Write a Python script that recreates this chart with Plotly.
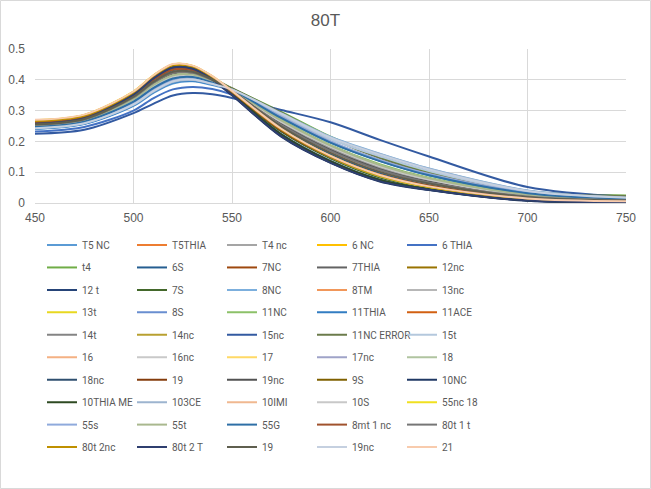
import plotly.graph_objects as go

wavelength = [450, 475, 500, 510, 520, 530, 540, 550, 575, 600, 625, 650, 700, 750]

series_names = [
    "T5 NC", "T5THIA", "T4 nc", "6 NC", "6 THIA",
    "t4", "6S", "7NC", "7THIA", "12nc",
    "12 t", "7S", "8NC", "8TM", "13nc",
    "13t", "8S", "11NC", "11THIA", "11ACE",
    "14t", "14nc", "15nc", "11NC ERROR", "15t",
    "16", "16nc", "17", "17nc", "18",
    "18nc", "19", "19nc", "9S", "10NC",
    "10THIA ME", "103CE", "10IMI", "10S", "55nc 18",
    "55s", "55t", "55G", "8mt 1 nc", "80t 1 t",
    "80t 2nc", "80t 2 T", "19", "19nc", "21",
]

absorbance = [
    [.240, .256, .315, .357, .388, .395, .383, .366, .288, .210, .155, .106, .038, .016],
    [.256, .273, .346, .394, .428, .427, .401, .363, .247, .162, .100, .062, .019, .008],
    [.251, .269, .338, .384, .416, .418, .396, .365, .260, .178, .115, .073, .024, .010],
    [.266, .283, .358, .410, .447, .443, .409, .361, .236, .148, .086, .050, .013, .005],
    [.232, .247, .300, .340, .369, .377, .370, .352, .276, .196, .137, .090, .030, .012],
    [.254, .271, .340, .386, .418, .420, .402, .372, .296, .215, .150, .100, .038, .024],
    [.257, .274, .347, .395, .429, .428, .402, .362, .244, .158, .097, .059, .018, .007],
    [.261, .278, .351, .401, .435, .432, .402, .359, .234, .148, .088, .053, .015, .006],
    [.249, .267, .334, .380, .412, .414, .394, .364, .264, .183, .120, .077, .026, .011],
    [.263, .280, .354, .404, .438, .435, .404, .360, .235, .149, .089, .054, .015, .006],
    [.258, .276, .352, .405, .441, .437, .402, .352, .218, .132, .072, .043, .008, .003],
    [.262, .280, .356, .408, .445, .442, .408, .360, .232, .145, .083, .049, .012, .005],
    [.243, .259, .320, .362, .394, .400, .387, .369, .292, .215, .160, .112, .041, .018],
    [.254, .271, .343, .390, .423, .423, .399, .363, .252, .168, .106, .066, .021, .009],
    [.250, .268, .336, .382, .414, .416, .395, .365, .262, .180, .117, .075, .025, .010],
    [.268, .285, .361, .413, .450, .445, .411, .363, .239, .152, .090, .053, .014, .005],
    [.246, .263, .328, .372, .403, .408, .390, .367, .278, .198, .138, .092, .033, .014],
    [.252, .270, .338, .385, .417, .419, .398, .367, .270, .188, .126, .082, .028, .012],
    [.241, .257, .317, .359, .391, .397, .385, .368, .289, .211, .156, .108, .039, .017],
    [.260, .277, .349, .399, .433, .431, .402, .360, .238, .152, .092, .056, .016, .006],
    [.249, .267, .335, .381, .413, .415, .394, .364, .262, .181, .118, .076, .025, .010],
    [.265, .282, .357, .409, .446, .442, .409, .362, .240, .153, .091, .054, .014, .006],
    [.225, .238, .292, .322, .349, .357, .353, .341, .302, .262, .205, .151, .052, .020],
    [.255, .272, .342, .388, .420, .422, .404, .373, .293, .211, .146, .097, .036, .023],
    [.244, .260, .322, .365, .397, .402, .388, .368, .286, .207, .152, .104, .037, .016],
    [.255, .272, .344, .392, .425, .425, .400, .364, .250, .165, .103, .064, .020, .008],
    [.248, .266, .333, .379, .410, .413, .393, .364, .266, .185, .122, .079, .026, .011],
    [.267, .284, .359, .411, .448, .444, .410, .362, .237, .149, .087, .051, .013, .005],
    [.245, .262, .326, .370, .401, .406, .389, .366, .280, .200, .140, .094, .034, .015],
    [.251, .269, .337, .383, .415, .417, .396, .366, .266, .184, .121, .078, .026, .011],
    [.257, .275, .350, .402, .437, .434, .401, .354, .224, .137, .076, .045, .009, .004],
    [.262, .279, .352, .402, .436, .433, .403, .360, .236, .150, .090, .055, .016, .006],
    [.253, .271, .342, .389, .421, .422, .399, .364, .255, .172, .110, .069, .022, .009],
    [.267, .285, .360, .412, .449, .444, .410, .362, .238, .150, .088, .052, .014, .005],
    [.256, .274, .350, .403, .440, .436, .400, .350, .215, .130, .070, .042, .007, .003],
    [.259, .277, .353, .406, .443, .439, .404, .355, .222, .135, .075, .045, .009, .004],
    [.243, .259, .319, .361, .393, .399, .386, .368, .291, .214, .159, .111, .040, .018],
    [.254, .272, .344, .391, .424, .424, .400, .364, .251, .166, .104, .065, .020, .008],
    [.250, .268, .335, .381, .413, .415, .395, .365, .263, .182, .119, .076, .025, .010],
    [.269, .286, .362, .414, .450, .445, .411, .363, .240, .151, .089, .052, .014, .005],
    [.245, .262, .327, .371, .402, .407, .390, .367, .279, .199, .139, .093, .034, .015],
    [.251, .269, .337, .383, .415, .417, .396, .366, .268, .186, .123, .080, .027, .012],
    [.247, .264, .329, .373, .404, .409, .391, .367, .276, .196, .136, .090, .032, .013],
    [.261, .278, .350, .400, .434, .432, .402, .360, .237, .151, .091, .055, .016, .006],
    [.254, .271, .343, .390, .423, .423, .399, .363, .253, .169, .107, .067, .021, .009],
    [.266, .283, .358, .410, .446, .442, .409, .362, .239, .152, .090, .053, .014, .005],
    [.257, .275, .351, .404, .440, .436, .401, .351, .217, .131, .071, .043, .008, .003],
    [.256, .273, .345, .393, .426, .426, .401, .364, .248, .163, .101, .063, .019, .008],
    [.243, .259, .320, .363, .395, .401, .387, .368, .290, .212, .157, .109, .039, .017],
    [.270, .287, .362, .414, .451, .446, .412, .364, .241, .153, .091, .054, .015, .006],
]

line_colors = [
    "#5B9BD5", "#ED7D31", "#A5A5A5", "#FFC000", "#4472C4",
    "#70AD47", "#255E91", "#9E480E", "#636363", "#997300",
    "#264478", "#43682B", "#7CAFDD", "#F1975A", "#B7B7B7",
    "#E8D820", "#698ED0", "#8CC168", "#327DC2", "#D26012",
    "#848484", "#B8A030", "#335AA1", "#6B7B4B", "#B4C8DD",
    "#F4B183", "#C9C9C9", "#FFD966", "#9FA3C8", "#B0C4A0",
    "#2F4F6F", "#843C0C", "#525252", "#7F6000", "#203864",
    "#2E4A22", "#9DB4CF", "#F0B890", "#C8C8C8", "#F0E020",
    "#8FAADC", "#A9B88E", "#2E6FA6", "#A0522D", "#767676",
    "#BF9000", "#2F3F6F", "#5F5F4F", "#C5D0E0", "#F8CBAD",
]

# layout geometry (pixels)
W, H = 651, 489
PL, PR, PT, PB = 35, 626, 49, 203
pw, ph = PR - PL, PB - PT

fig = go.Figure()
for i, (nm, vals, col) in enumerate(zip(series_names, absorbance, line_colors)):
    row = i // 5
    lg = "legend" if row == 0 else f"legend{row + 1}"
    fig.add_trace(go.Scatter(
        x=wavelength, y=vals, name=nm, mode="lines",
        line=dict(color=col, width=2, shape="spline", smoothing=0.9),
        legend=lg,
    ))

legend_font = dict(family="Roboto, Arial", size=10, color="#595959")
layout_legends = {}
for r in range(10):
    key = "legend" if r == 0 else f"legend{r + 1}"
    row_y = 245 + 22.45 * r
    layout_legends[key] = dict(
        orientation="h",
        x=(42 - PL) / pw, xanchor="left",
        y=(PB - row_y) / ph, yanchor="middle",
        entrywidth=45, entrywidthmode="pixels",
        font=legend_font, bgcolor="rgba(0,0,0,0)",
        itemwidth=30, tracegroupgap=0,
    )

tick_font = dict(family="Liberation Sans, Arial", size=12, color="#595959")
fig.update_layout(
    width=W, height=H,
    margin=dict(l=PL, r=W - PR, t=PT, b=H - PB, autoexpand=False),
    paper_bgcolor="white", plot_bgcolor="white",
    title=dict(text="80T", x=0.5, xref="container", xanchor="center",
               y=1 - 20 / H, yref="container", yanchor="middle",
               font=dict(family="Liberation Sans, Arial", size=17, color="#595959")),
    xaxis=dict(range=[450, 750], dtick=50, tick0=450, showgrid=True, gridcolor="#D9D9D9",
               gridwidth=1, zeroline=False, showline=True, linecolor="#D9D9D9",
               ticks="", ticklabelstandoff=4, tickfont=tick_font),
    yaxis=dict(range=[0, 0.5], dtick=0.1, showgrid=True, gridcolor="#D9D9D9",
               gridwidth=1, zeroline=False, showline=False, ticks="",
               ticklabelstandoff=9, tickfont=tick_font),
    showlegend=True,
    **layout_legends,
)

fig.add_shape(type="rect", xref="paper", yref="paper",
              x0=(0.5 - PL) / pw, x1=(W - 0.5 - PL) / pw,
              y0=(PB - (H - 0.5)) / ph, y1=(PB - 0.5) / ph,
              line=dict(color="#D9D9D9", width=1), fillcolor="rgba(0,0,0,0)", layer="below")

fig.write_html("out.html")
